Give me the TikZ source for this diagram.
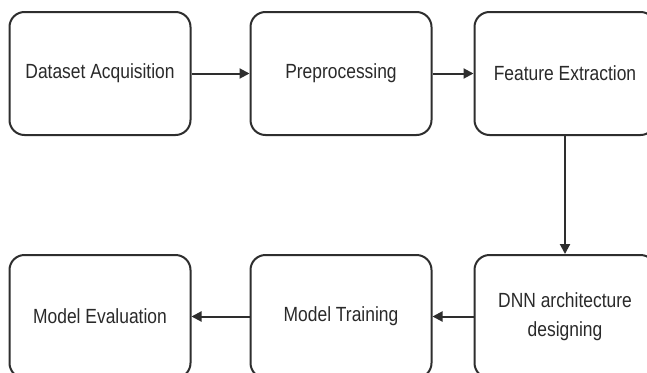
\documentclass[tikz,border=0pt]{standalone}
\usepackage{fontspec}
\setmainfont[FakeStretch=0.85]{Liberation Sans}
\usetikzlibrary{arrows.meta}
\definecolor{edge}{HTML}{2E2E2E}
\definecolor{txt}{HTML}{2A2A2A}
\tikzset{
  stagebox/.style={draw=edge, line width=2pt, rounded corners=15pt, minimum width=181pt, minimum height=123pt, inner sep=0pt, align=center, text=txt, font=\fontsize{20.5}{28.5}\selectfont, fill=white},
  flow/.style={draw=edge, line width=2pt, -{Triangle[length=10pt,width=10pt]}}
}
\begin{document}
\begin{tikzpicture}[x=1pt,y=-1pt]
\useasboundingbox (0,0) rectangle (647,372);
\clip (0,0) rectangle (647,372);
\fill[white] (0,0) rectangle (647,372);
\node[stagebox] (a) at (100,73.5) {Dataset Acquisition};
\node[stagebox] (b) at (341,73.5) {Preprocessing};
\node[stagebox] (c) at (565,73.5) {Feature Extraction};
\node[stagebox] (d) at (565,316.5) {DNN architecture\\designing};
\node[stagebox] (e) at (341,316.5) {Model Training};
\node[stagebox] (f) at (100,316.5) {Model Evaluation};
\draw[flow] (a) -- (b);
\draw[flow] (b) -- (c);
\draw[flow] (c) -- (d);
\draw[flow] (d) -- (e);
\draw[flow] (e) -- (f);
\end{tikzpicture}
\end{document}
